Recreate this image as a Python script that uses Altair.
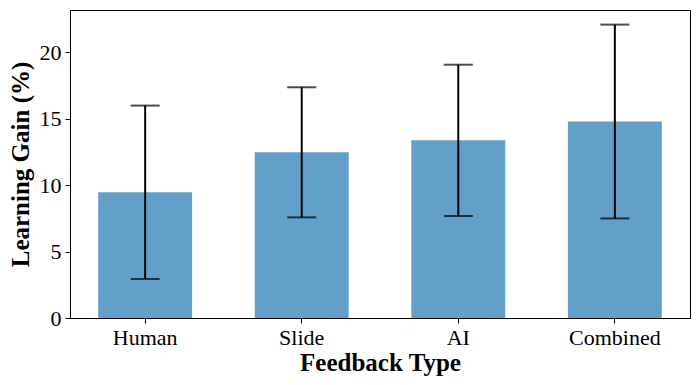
import altair as alt
import pandas as pd

categories = ["Human", "Slide", "AI", "Combined"]
means = [9.47, 12.48, 13.38, 14.8]
errors = [6.53, 4.9, 5.7, 7.3]

df = pd.DataFrame({
    "type": categories,
    "mean": means,
    "lo": [m - e for m, e in zip(means, errors)],
    "hi": [m + e for m, e in zip(means, errors)],
})

FONT = "Liberation Serif"

x = alt.X("type:N", sort=categories, title="Feedback Type",
          scale=alt.Scale(paddingInner=0.4, paddingOuter=0.18),
          axis=alt.Axis(labelAngle=0, bandPosition=0.5, labelFontSize=22,
                        titleFontSize=25, titleFontWeight="bold",
                        labelFont=FONT, titleFont=FONT, labelColor="black",
                        titleColor="black", tickColor="black", domainColor="black",
                        tickSize=5, labelPadding=4, titlePadding=2, grid=False))

y_scale = alt.Scale(domain=[0, 23.2], nice=False, zero=True)
y_axis = alt.Axis(values=[0, 5, 10, 15, 20], labelFontSize=22, titleFontSize=25,
                  titleFontWeight="bold", labelFont=FONT, titleFont=FONT,
                  labelColor="black", titleColor="black", tickColor="black",
                  domainColor="black", tickSize=5, labelPadding=4,
                  titlePadding=6, grid=False)

bars = alt.Chart(df).mark_bar(color="#62a0ca").encode(
    x=x,
    y=alt.Y("mean:Q", scale=y_scale, axis=y_axis, title="Learning Gain (%)"),
)

rules = alt.Chart(df).mark_rule(color="black", strokeWidth=2).encode(
    x=alt.X("type:N", sort=categories),
    y=alt.Y("lo:Q", scale=y_scale),
    y2="hi:Q",
)

caps_hi = alt.Chart(df).mark_tick(color="black", size=29, thickness=2).encode(
    x=alt.X("type:N", sort=categories),
    y=alt.Y("hi:Q", scale=y_scale),
)
caps_lo = alt.Chart(df).mark_tick(color="black", size=29, thickness=2).encode(
    x=alt.X("type:N", sort=categories),
    y=alt.Y("lo:Q", scale=y_scale),
)

chart = alt.layer(bars, rules, caps_hi, caps_lo).properties(
    width=620, height=308,
    autosize=alt.AutoSizeParams(type="none"),
    padding={"left": 62, "top": 2, "right": 1, "bottom": 59},
    background="white",
).configure_view(stroke="black", strokeWidth=1)

chart.save("out.html", embed_options={"renderer": "svg", "actions": False})
